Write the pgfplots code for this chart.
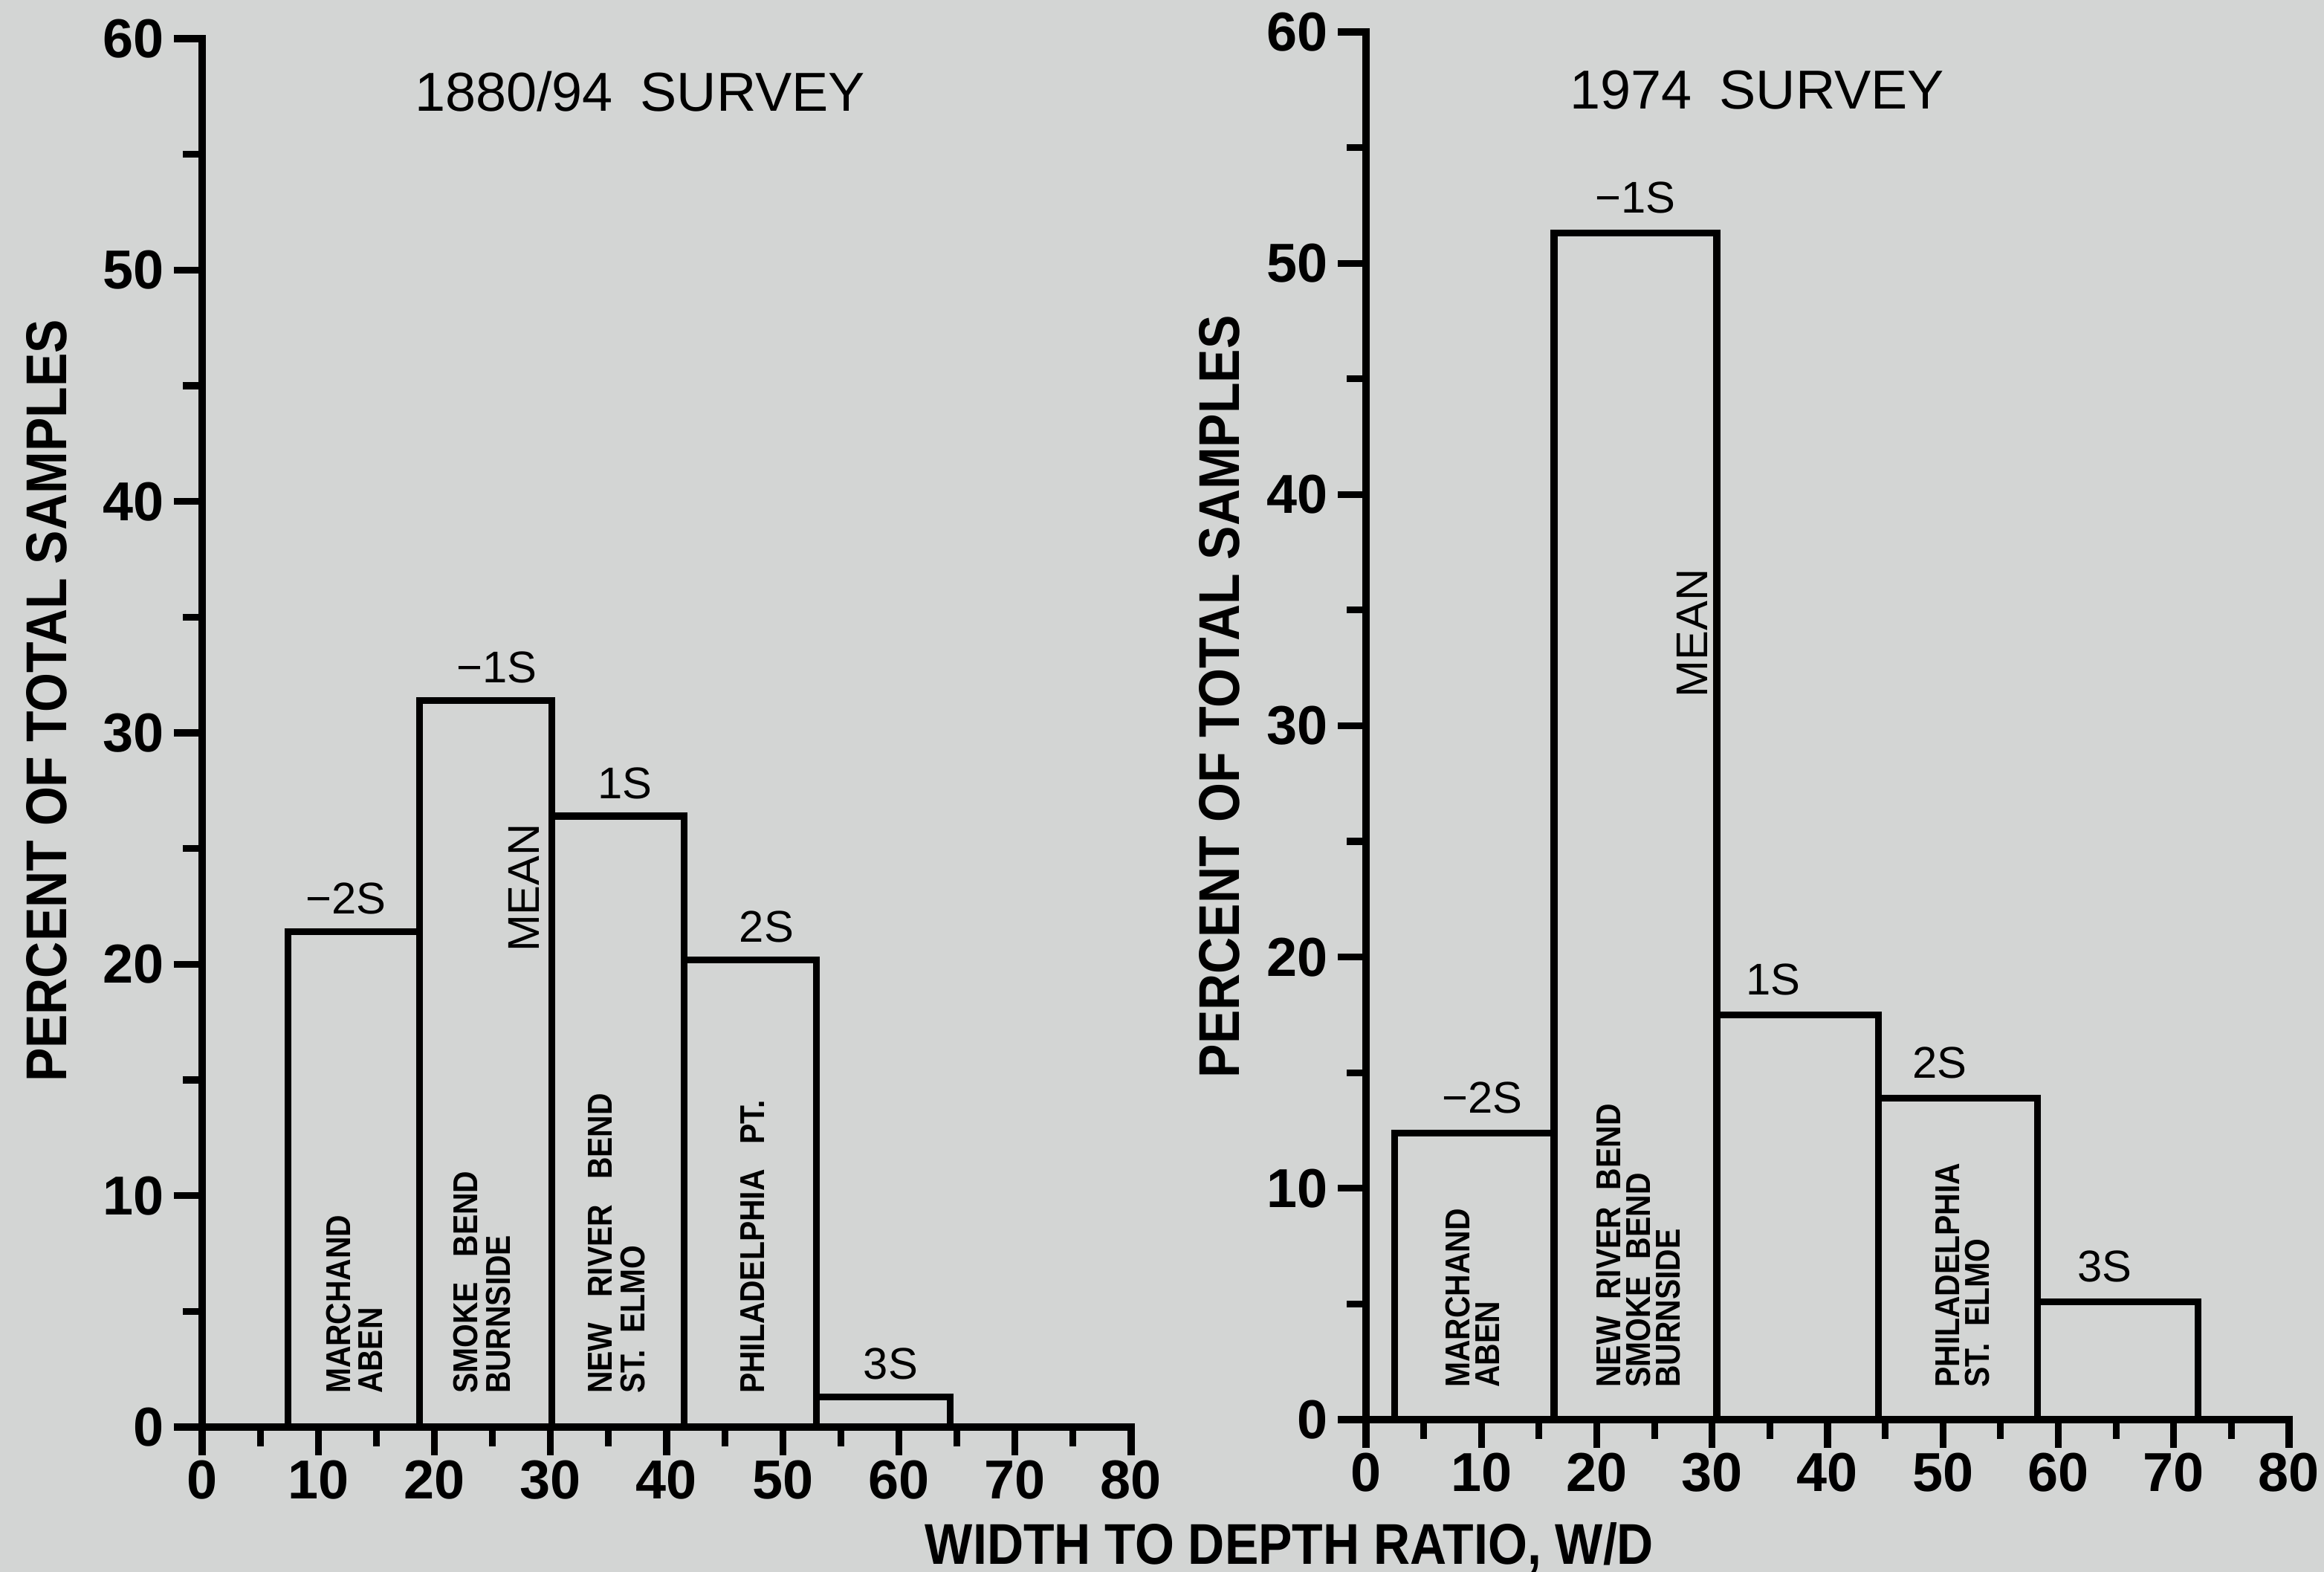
\documentclass[border=0pt]{standalone}
\usepackage{pgfplots}
\pgfplotsset{compat=1.18}
\usepackage{fontspec}
\setmainfont{Liberation Sans}
\newfontfamily\labfont{Liberation Sans}[FakeStretch=0.88]
\definecolor{paper}{RGB}{211,213,212}
\pgfplotsset{
  histo/.style={
    scale only axis, clip=false,
    width=62.5mm, height=93.4mm,
    xmin=0, xmax=80, ymin=0, ymax=60,
    axis x line=bottom, axis y line=left,
    axis line style={-, line width=1.4pt, line cap=rect},
    xtick={0,10,...,80}, ytick={0,10,...,60},
    minor xtick={5,15,...,75}, minor ytick={5,15,...,55},
    tick align=outside,
    major tick length=1.9mm, minor tick length=1.3mm,
    tick style={black, line width=1.3pt},
    tick label style={font=\bfseries\fontsize{10.5}{12}\selectfont},
    /pgf/number format/assume math mode=true,
    xticklabel style={inner sep=0.3mm},
    yticklabel style={inner sep=0.6mm},
    ylabel={PERCENT OF TOTAL SAMPLES},
    ylabel style={anchor=center, font=\labfont\bfseries\fontsize{11}{13}\selectfont},
  },
  bars/.style={ybar interval, draw=black, fill=none, line width=1.3pt},
}
\tikzset{
  inlab/.style={rotate=90, anchor=west, align=left, inner sep=0pt, font=\labfont\bfseries\fontsize{6.6}{6.2}\selectfont},
  inlabr/.style={rotate=90, anchor=west, align=left, inner sep=0pt, font=\labfont\bfseries\fontsize{6.6}{5.7}\selectfont},
  toplab/.style={anchor=south, inner sep=0pt, font=\fontsize{8.5}{10}\selectfont},
}
\begin{document}
\begin{tikzpicture}
\fill[paper] (0,0) rectangle (156.35mm,105.75mm);
\path[use as bounding box] (0,0) rectangle (156.35mm,105.75mm);

% ---- 1880/94 survey ----
\begin{axis}[histo, at={(13.6mm,9.75mm)}, anchor=south west,
  ylabel style={at={(axis description cs:-0.167,0.523)}}]
\addplot[bars] coordinates {(7.4,21.4) (18.7,31.4) (30.1,26.4) (41.5,20.2) (52.9,1.3) (64.4,1.3)};
\node[font=\fontsize{10.5}{12}\selectfont] at (axis cs:37.7,57.7) {1880/94\hspace{0.5em}SURVEY};
\node[toplab] at (axis cs:12.4,22.1) {−2S};
\node[toplab] at (axis cs:25.4,32.1) {−1S};
\node[toplab] at (axis cs:36.4,27.1) {1S};
\node[toplab] at (axis cs:48.6,20.9) {2S};
\node[toplab] at (axis cs:59.3,2.0) {3S};
\node[rotate=90, inner sep=0pt, font=\fontsize{8.5}{10}\selectfont] at (axis cs:27.7,23.3) {MEAN};
\node[inlab] at (axis cs:13.1,1.4) {MARCHAND\\ABEN};
\node[inlab] at (axis cs:24.1,1.4) {SMOKE\ \ \ BEND\\BURNSIDE};
\node[inlab] at (axis cs:35.7,1.4) {NEW\ \ \ RIVER\ \ \ BEND\\ST.\ \ ELMO};
\node[inlab] at (axis cs:47.4,1.4) {PHILADELPHIA\ \ \ PT.};
\end{axis}

% ---- 1974 survey ----
\begin{axis}[histo, at={(91.9mm,10.25mm)}, anchor=south west, width=62.1mm, height=93.35mm,
  ylabel style={at={(axis description cs:-0.159,0.521)}}]
\addplot[bars] coordinates {(2.5,12.4) (16.3,51.3) (30.4,17.5) (44.4,13.9) (58.2,5.1) (72.1,5.1)};
\node[font=\fontsize{10.5}{12}\selectfont] at (axis cs:33.9,57.5) {1974\hspace{0.5em}SURVEY};
\node[toplab] at (axis cs:10.1,13.2) {−2S};
\node[toplab] at (axis cs:23.35,52.1) {−1S};
\node[toplab] at (axis cs:35.3,18.3) {1S};
\node[toplab] at (axis cs:49.7,14.7) {2S};
\node[toplab] at (axis cs:64.0,5.9) {3S};
\node[rotate=90, inner sep=0pt, font=\fontsize{8.5}{10}\selectfont] at (axis cs:28.3,34.0) {MEAN};
\node[inlabr] at (axis cs:9.2,1.35) {MARCHAND\\ABEN};
\node[inlabr] at (axis cs:23.6,1.35) {NEW\ \ RIVER\ \ BEND\\SMOKE\ \ BEND\\BURNSIDE};
\node[inlabr] at (axis cs:51.7,1.35) {PHILADELPHIA\\ST.\ \ ELMO};
\end{axis}

\node[anchor=base, inner sep=0pt, font=\labfont\bfseries\fontsize{11}{13}\selectfont] at (86.75mm,0.5mm) {WIDTH TO DEPTH RATIO, W/D};
\end{tikzpicture}
\end{document}
